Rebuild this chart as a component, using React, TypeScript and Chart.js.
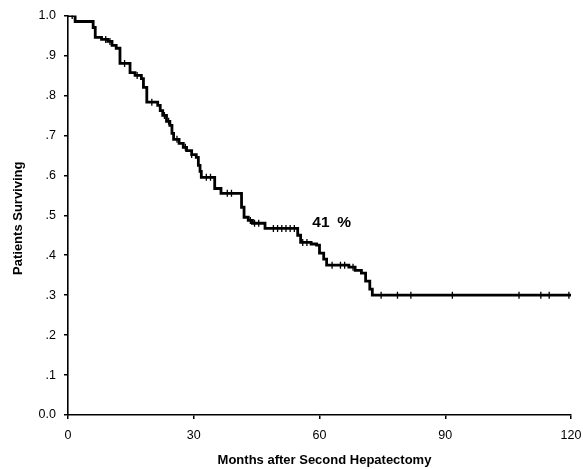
import React, { useEffect, useRef } from "react";
import { Chart, registerables } from "chart.js";

Chart.register(...registerables);

// Kaplan-Meier step curve: months and survival after each drop
const stepMonths = [0, 1.7, 6.0, 6.5, 8, 9.5, 10.5, 11.5, 12.4, 14.8, 16, 17.5, 18, 18.8, 21.4, 22, 22.6, 23.5, 24.3, 24.8, 25.2, 26.5, 27.5, 28.3, 29.5, 30.6, 31.1, 31.5, 31.8, 35, 36.5, 41.4, 42, 43, 44, 47, 54.8, 55.5, 58, 59.3, 60, 61, 61.7, 67, 68.5, 70, 71, 72, 72.6, 120];
const stepSurvival = [1.0, 0.985, 0.97, 0.945, 0.94, 0.935, 0.925, 0.918, 0.88, 0.857, 0.85, 0.842, 0.82, 0.783, 0.775, 0.762, 0.75, 0.735, 0.725, 0.705, 0.69, 0.68, 0.67, 0.662, 0.652, 0.645, 0.625, 0.61, 0.595, 0.567, 0.555, 0.52, 0.495, 0.487, 0.48, 0.467, 0.45, 0.432, 0.428, 0.425, 0.405, 0.39, 0.375, 0.37, 0.362, 0.355, 0.335, 0.315, 0.3, 0.3];

// censored observations (months)
const censorMonths = [1, 9, 10, 13.5, 16.5, 20, 23, 24, 26, 28, 29.5, 33, 34, 38, 39, 43.5, 44.5, 45.5, 49, 50, 51, 52, 53, 54, 56, 57, 63, 65, 66, 68, 74.7, 78.6, 81.8, 91.7, 107.6, 112.8, 114.8, 119.5];

const xTicks = [0, 30, 60, 90, 120];
const yTickLabels = ["0.0", ".1", ".2", ".3", ".4", ".5", ".6", ".7", ".8", ".9", "1.0"];
const annotationText = ["41", "%"];
const xTitle = "Months after Second Hepatectomy";
const yTitle = "Patients Surviving";

const FONT = "'Liberation Sans', Arial, sans-serif";

function levelAt(t: number): number {
  let v = stepSurvival[0];
  for (let i = 0; i < stepMonths.length; i++) {
    if (stepMonths[i] <= t) v = stepSurvival[i];
  }
  return v;
}

export default function App() {
  const ref = useRef<HTMLCanvasElement | null>(null);

  useEffect(() => {
    if (!ref.current) return;
    const textPlugin = {
      id: "texts",
      afterDraw(chart: any) {
        const ctx = chart.ctx;
        const xs = chart.scales.x;
        const ys = chart.scales.y;
        ctx.save();
        ctx.fillStyle = "#000";
        ctx.font = `bold 15.5px ${FONT}`;
        ctx.textAlign = "left";
        ctx.textBaseline = "middle";
        const ax = xs.getPixelForValue(58.3);
        const ay = ys.getPixelForValue(0.482);
        ctx.fillText(annotationText[0], ax, ay);
        ctx.fillText(annotationText[1], ax + 25, ay);
        ctx.font = `bold 13px ${FONT}`;
        ctx.textAlign = "center";
        ctx.fillText(xTitle, (xs.left + xs.right) / 2 + 5, 460);
        ctx.translate(18, (ys.top + ys.bottom) / 2 + 3);
        ctx.rotate(-Math.PI / 2);
        ctx.fillText(yTitle, 0, 0);
        ctx.restore();
      },
    };

    const chart = new Chart(ref.current, {
      type: "line",
      data: {
        datasets: [
          {
            data: stepMonths.map((m, i) => ({ x: m, y: stepSurvival[i] })),
            stepped: true,
            borderColor: "#000",
            borderWidth: 2.8,
            pointRadius: 0,
            fill: false,
          },
          {
            type: "scatter",
            data: censorMonths.map((m) => ({ x: m, y: levelAt(m) })),
            pointStyle: "line",
            rotation: 90,
            radius: 3.5,
            borderColor: "#000",
            borderWidth: 1.3,
            showLine: false,
          } as any,
        ],
      },
      options: {
        responsive: false,
        animation: false,
        events: [],
        layout: { padding: { left: 0, right: 12, top: 15, bottom: 0 } },
        plugins: { legend: { display: false }, tooltip: { enabled: false } },
        scales: {
          x: {
            type: "linear",
            min: 0,
            max: 120,
            afterBuildTicks: (s: any) => {
              s.ticks = xTicks.map((v) => ({ value: v }));
            },
            afterFit: (s: any) => {
              s.height = 54;
              s.paddingRight = 0;
              s.paddingLeft = 0;
            },
            ticks: { color: "#000", font: { family: FONT, size: 12.5 }, padding: 9, maxRotation: 0 },
            grid: { drawOnChartArea: false, color: "#000", tickLength: 4, lineWidth: 1.5 },
            border: { color: "#000", width: 1.6 },
          },
          y: {
            type: "linear",
            min: 0,
            max: 1,
            afterBuildTicks: (s: any) => {
              s.ticks = yTickLabels.map((_, i) => ({ value: i / 10 }));
            },
            afterFit: (s: any) => {
              s.width = 68;
            },
            ticks: {
              color: "#000",
              font: { family: FONT, size: 12.5 },
              padding: 8,
              callback: (v: any) => yTickLabels[Math.round(Number(v) * 10)],
            },
            grid: { drawOnChartArea: false, color: "#000", tickLength: 4, lineWidth: 1.5 },
            border: { color: "#000", width: 1.6 },
          },
        },
      },
      plugins: [textPlugin],
    });
    return () => chart.destroy();
  }, []);

  return (
    <div style={{ position: "fixed", left: 0, top: 0, width: 583, height: 469, background: "#fff" }}>
      <canvas ref={ref} width={583} height={469} style={{ width: 583, height: 469 }} />
    </div>
  );
}
